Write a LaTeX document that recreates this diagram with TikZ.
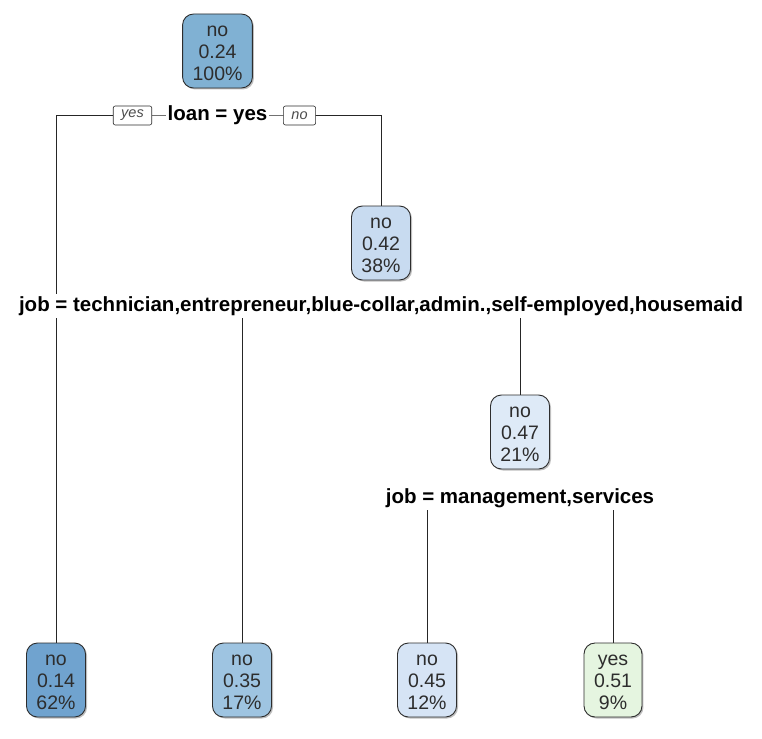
\documentclass[tikz,border=0pt]{standalone}
\usepackage{fontspec}
\setmainfont{Liberation Sans}
\usetikzlibrary{shadows,backgrounds}
\definecolor{cA}{RGB}{128,177,211}
\definecolor{cB}{RGB}{200,219,240}
\definecolor{cC}{RGB}{222,234,247}
\definecolor{cD}{RGB}{112,163,207}
\definecolor{cE}{RGB}{158,196,225}
\definecolor{cF}{RGB}{214,228,245}
\definecolor{cG}{RGB}{229,245,224}
\definecolor{boxline}{RGB}{45,45,45}
\definecolor{txt}{RGB}{45,45,45}
\newcommand\ls{\rule{0pt}{16pt}}
\begin{document}
\begin{tikzpicture}[x=1pt,y=-1pt,
  tbox/.style={draw=boxline, line width=0.9pt, rounded corners=11pt,
    minimum height=74pt, inner xsep=10pt, inner ysep=0pt, align=center,
    text=txt, font=\fontsize{19.5}{22}\selectfont,
    drop shadow={shadow xshift=1.5pt, shadow yshift=-1.5pt, fill=black, opacity=0.25}},
  split/.style={fill=white, inner sep=2pt, text=black,
    font=\bfseries\fontsize{20.5}{24}\selectfont},
  yn/.style={draw=boxline, fill=white, rounded corners=2pt, line width=0.6pt,
    font=\itshape\fontsize{14.5}{16}\selectfont, text=black!70,
    minimum height=19pt, inner xsep=8pt, inner ysep=0pt},
  edge/.style={draw=black!85, line width=0.8pt}]
\useasboundingbox (0,0) rectangle (762,738);

\node[tbox, fill=cA] (n1) at (217.5,51) {\ls no\\\ls 0.24\\\ls 100\%};
\node[split] (s1) at (217.5,115) {loan = yes};
\node[yn] (ys) at (132.5,115.5) {yes};
\node[yn] (no) at (299.5,115.5) {no};

\node[tbox, fill=cB] (n2) at (381,243) {\ls no\\\ls 0.42\\\ls 38\%};
\node[split] (s2) at (381,306) {job = technician,entrepreneur,blue-collar,admin.,self-employed,housemaid};

\node[tbox, fill=cC] (n3) at (520,432) {\ls no\\\ls 0.47\\\ls 21\%};
\node[split] (s3) at (520,498) {job = management,services};

\node[tbox, fill=cD] (l1) at (56,680) {\ls no\\\ls 0.14\\\ls 62\%};
\node[tbox, fill=cE] (l2) at (242,680) {\ls no\\\ls 0.35\\\ls 17\%};
\node[tbox, fill=cF] (l3) at (427,680) {\ls no\\\ls 0.45\\\ls 12\%};
\node[tbox, fill=cG] (l4) at (613,680) {\ls yes\\\ls 0.51\\\ls 9\%};

\begin{scope}[on background layer]
\fill[white] (0,0) rectangle (762,738);
\draw[edge] (l1.north) |- (s1.center) -| (n2.north);
\draw[edge] (l2.north) |- (s2.center) -| (n3.north);
\draw[edge] (l3.north) |- (s3.center) -| (l4.north);
\end{scope}
\end{tikzpicture}
\end{document}
